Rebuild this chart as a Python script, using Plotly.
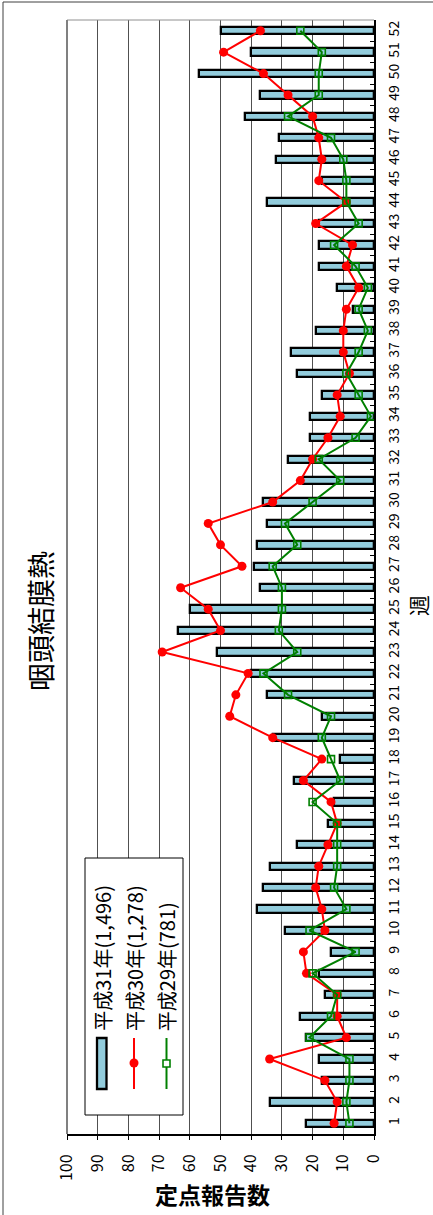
import plotly.graph_objects as go

# Weekly sentinel reports of pharyngoconjunctival fever, three seasons
weeks = list(range(1, 53))
h31 = [22, 34, 17, 18, 22, 24, 16, 18, 14, 29, 38, 36, 34, 25, 15, 13, 26, 11, 33, 17,
       35, 40, 51, 64, 60, 37, 39, 38, 35, 36, 23, 28, 21, 21, 17, 25, 27, 19, 7, 12,
       18, 18, 18, 35, 17, 32, 31, 42, 37, 57, 40, 50]
h30 = [13, 12, 16, 34, 9, 12, 12, 22, 23, 16, 17, 19, 18, 15, 12, 14, 23, 17, 33, 47,
       45, 41, 69, 50, 54, 63, 43, 50, 54, 33, 24, 20, 15, 11, 12, 8, 10, 10, 9, 5,
       9, 7, 19, 9, 18, 17, 18, 20, 28, 36, 49, 37]
h29 = [8, 9, 8, 8, 21, 14, 12, 20, 6, 21, 9, 13, 12, 12, 12, 20, 11, 14, 17, 14,
       28, 36, 25, 31, 30, 30, 33, 25, 29, 20, 11, 18, 6, 1, 5, 9, 5, 2, 5, 2,
       6, 13, 5, 9, 9, 10, 14, 28, 18, 18, 17, 24]
value_ticks = list(range(0, 101, 10))
legend_labels = ["平成31年(1,496)", "平成30年(1,278)", "平成29年(781)"]

W, H = 433, 1215
L, R, T, B = 67, 59, 20, 81
PW, PH = W - L - R, H - T - B

FONT = "Noto Sans CJK JP, Liberation Sans, sans-serif"
BAR_FILL = "#92CCDC"
RED = "#FF0000"
GREEN = "#008000"


def px(x):
    return (x - L) / PW


def py(y):
    return (H - B - y) / PH


fig = go.Figure()
fig.add_trace(go.Bar(
    x=h31, y=weeks, orientation="h", width=0.34,
    marker=dict(color=BAR_FILL, line=dict(color="black", width=2.3)),
    showlegend=False, hoverinfo="x+y"))
fig.add_trace(go.Scatter(
    x=h30, y=weeks, mode="lines+markers",
    line=dict(color=RED, width=2),
    marker=dict(symbol="circle", size=9, color=RED),
    showlegend=False))
fig.add_trace(go.Scatter(
    x=h29, y=weeks, mode="lines+markers",
    line=dict(color=GREEN, width=2),
    marker=dict(symbol="square-open", size=7, color=GREEN, line=dict(width=1.6)),
    showlegend=False))

shapes = []
# outer chart frame
shapes.append(dict(type="line", xref="paper", yref="paper",
                   x0=px(3), x1=px(W + 5), y0=py(2), y1=py(2),
                   line=dict(color="#404040", width=1)))
shapes.append(dict(type="line", xref="paper", yref="paper",
                   x0=px(3), x1=px(3), y0=py(2), y1=py(H + 5),
                   line=dict(color="#404040", width=1)))
# plot-area border on the far side of the axes
shapes.append(dict(type="line", xref="paper", yref="paper",
                   x0=0, x1=1, y0=1, y1=1, line=dict(color="#909090", width=1)))
shapes.append(dict(type="line", xref="paper", yref="paper",
                   x0=0, x1=0, y0=0, y1=1, line=dict(color="#808080", width=2)))

# legend box
shapes.append(dict(type="rect", xref="paper", yref="paper",
                   x0=px(85), x1=px(183), y0=py(1115), y1=py(858),
                   fillcolor="white", line=dict(color="black", width=1), layer="above"))
# legend keys
shapes.append(dict(type="rect", xref="paper", yref="paper",
                   x0=px(97), x1=px(106.5), y0=py(1089), y1=py(1038),
                   fillcolor=BAR_FILL, line=dict(color="black", width=2.3), layer="above"))
shapes.append(dict(type="line", xref="paper", yref="paper",
                   x0=px(134), x1=px(134), y0=py(1089), y1=py(1038),
                   line=dict(color=RED, width=2), layer="above"))
shapes.append(dict(type="circle", xref="paper", yref="paper",
                   x0=px(129.5), x1=px(138.5), y0=py(1067.5), y1=py(1058.5),
                   fillcolor=RED, line=dict(color=RED, width=0), layer="above"))
shapes.append(dict(type="line", xref="paper", yref="paper",
                   x0=px(166.5), x1=px(166.5), y0=py(1089), y1=py(1038),
                   line=dict(color=GREEN, width=2), layer="above"))
shapes.append(dict(type="rect", xref="paper", yref="paper",
                   x0=px(163), x1=px(170), y0=py(1067), y1=py(1060),
                   fillcolor="white", line=dict(color=GREEN, width=1.6), layer="above"))

annotations = []
for xc, label in zip([101.7, 134, 166.7], legend_labels):
    annotations.append(dict(xref="paper", yref="paper", x=px(xc), y=py(1033),
                            xanchor="center", yanchor="bottom", textangle=-90,
                            text=label, showarrow=False,
                            font=dict(family=FONT, size=20, color="black")))
annotations.append(dict(xref="paper", yref="paper", x=px(40), y=py(621),
                        xanchor="center", yanchor="middle", textangle=-90,
                        text="咽頭結膜熱", showarrow=False,
                        font=dict(family=FONT, size=28, color="black")))
annotations.append(dict(xref="paper", yref="paper", x=px(212), y=py(1194),
                        xanchor="center", yanchor="middle",
                        text="<b>定点報告数</b>", showarrow=False,
                        font=dict(family=FONT, size=23, color="black")))
annotations.append(dict(xref="paper", yref="paper", x=px(418), y=py(606),
                        xanchor="center", yanchor="middle", textangle=-90,
                        text="週", showarrow=False,
                        font=dict(family=FONT, size=21, color="black")))

fig.update_layout(
    width=W, height=H, autosize=False,
    margin=dict(l=L, r=R, t=T, b=B, pad=0),
    paper_bgcolor="white", plot_bgcolor="white",
    font=dict(family=FONT, size=14, color="black"),
    bargap=0, showlegend=False,
    shapes=shapes, annotations=annotations,
    xaxis=dict(range=[100, 0], tickvals=value_ticks, ticktext=[str(v) for v in value_ticks],
               tickangle=-90, ticks="outside", ticklen=4, tickcolor="black",
               ticklabelstandoff=8,
               showline=True, linecolor="black", linewidth=2,
               showgrid=True, gridcolor="#505050", gridwidth=1, zeroline=False,
               tickfont=dict(family=FONT, size=16)),
    yaxis=dict(range=[0.5, 52.5], side="right", tickvals=weeks,
               ticktext=[str(w) for w in weeks], tickangle=-90, ticks="",
               ticklabelstandoff=6,
               showline=True, linecolor="black", linewidth=2,
               showgrid=False, zeroline=False,
               minor=dict(tickvals=[w + 0.5 for w in weeks[:-1]], ticks="inside",
                          ticklen=4, tickcolor="black", tickwidth=1),
               tickfont=dict(family=FONT, size=14)),
)

fig.write_html("out.html")
